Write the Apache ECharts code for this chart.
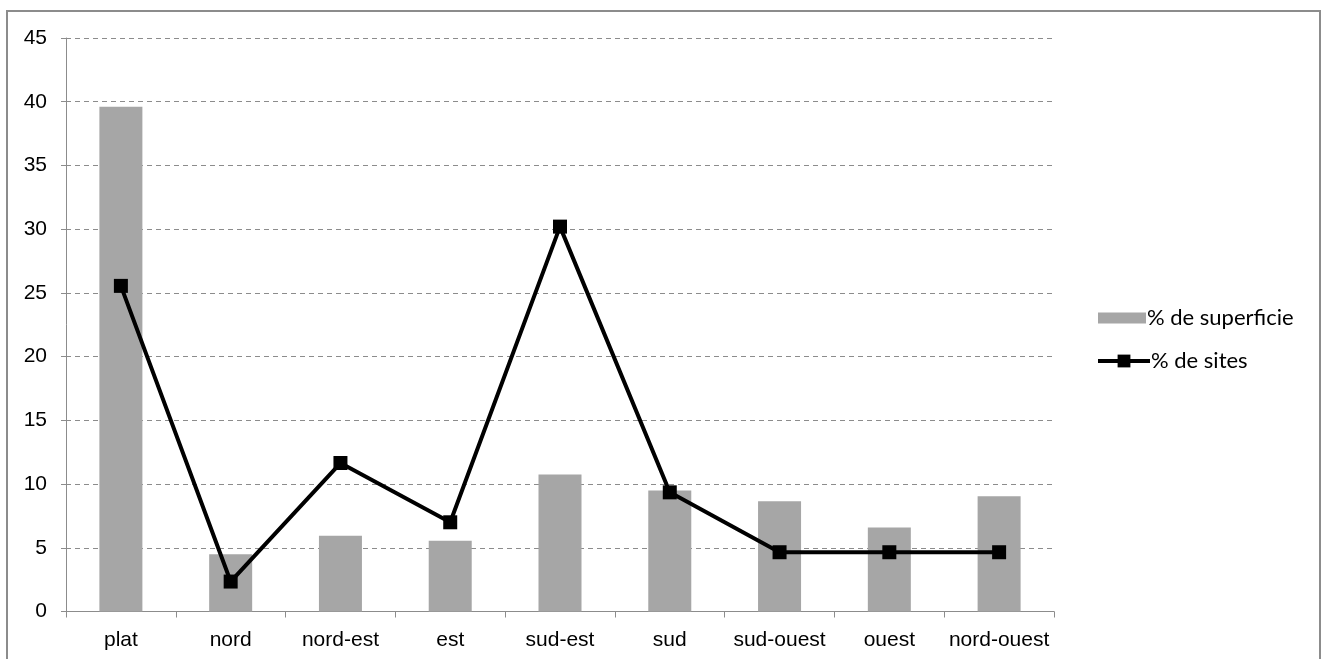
<!DOCTYPE html>
<html><head><meta charset="utf-8">
<script src="https://cdn.jsdelivr.net/npm/echarts@6/dist/echarts.min.js"></script>
<style>
html,body{margin:0;padding:0;background:#fff;}
#frame{position:absolute;left:6px;top:10px;width:1315px;height:700px;border:2px solid #8c8c8c;box-sizing:border-box;}
#chart{position:absolute;left:0;top:0;width:1325px;height:659px;}
</style></head>
<body>
<div id="frame"></div>
<div id="chart"></div>
<script>
const categories = ['plat','nord','nord-est','est','sud-est','sud','sud-ouest','ouest','nord-ouest'];
const superficie = [39.6, 4.5, 5.95, 5.55, 10.75, 9.5, 8.65, 6.6, 9.05];
const sites = [25.55, 2.35, 11.65, 7.0, 30.2, 9.35, 4.65, 4.65, 4.65];
const yTicks = {min: 0, max: 45, interval: 5};

const legendText = {fontFamily: 'Lato', fontSize: 22, color: '#000', padding: [0,0,0,-4]};
const chart = echarts.init(document.getElementById('chart'), null, {renderer: 'canvas'});
chart.setOption({
  animation: false,
  backgroundColor: 'transparent',
  grid: {left: 66, right: 271, top: 38, bottom: 47.5},
  legend: [
    {
      left: 1093, top: 302,
      itemWidth: 48, itemHeight: 11,
      textStyle: legendText,
      data: [{name: '% de superficie', icon: 'rect'}]
    },
    {
      left: 1091, top: 345,
      itemWidth: 52, itemHeight: 16,
      textStyle: legendText,
      data: [{name: '% de sites', lineStyle: {width: 4}}]
    }
  ],
  xAxis: {
    type: 'category', data: categories,
    axisLine: {lineStyle: {color: '#8c8c8c', width: 1}},
    axisTick: {show: true, length: 6, alignWithLabel: false, lineStyle: {color: '#8c8c8c'}},
    axisLabel: {color: '#000', fontFamily: 'Liberation Sans', fontSize: 21, margin: 18, interval: 0},
    splitLine: {show: false}
  },
  yAxis: {
    type: 'value', min: yTicks.min, max: yTicks.max, interval: yTicks.interval,
    axisLine: {show: true, lineStyle: {color: '#8c8c8c', width: 1}},
    axisTick: {show: true, length: 5, lineStyle: {color: '#8c8c8c'}},
    axisLabel: {color: '#000', fontFamily: 'Liberation Sans', fontSize: 21, margin: 19},
    splitLine: {show: true, lineStyle: {color: '#8c8c8c', type: [5, 4], width: 1}}
  },
  series: [
    {
      name: '% de superficie', type: 'bar', data: superficie,
      barWidth: 43,
      itemStyle: {color: '#a6a6a6'}
    },
    {
      name: '% de sites', type: 'line', data: sites,
      symbol: 'rect', symbolSize: 14,
      lineStyle: {color: '#000', width: 4},
      itemStyle: {color: '#000'}
    }
  ]
});
</script>
</body></html>
